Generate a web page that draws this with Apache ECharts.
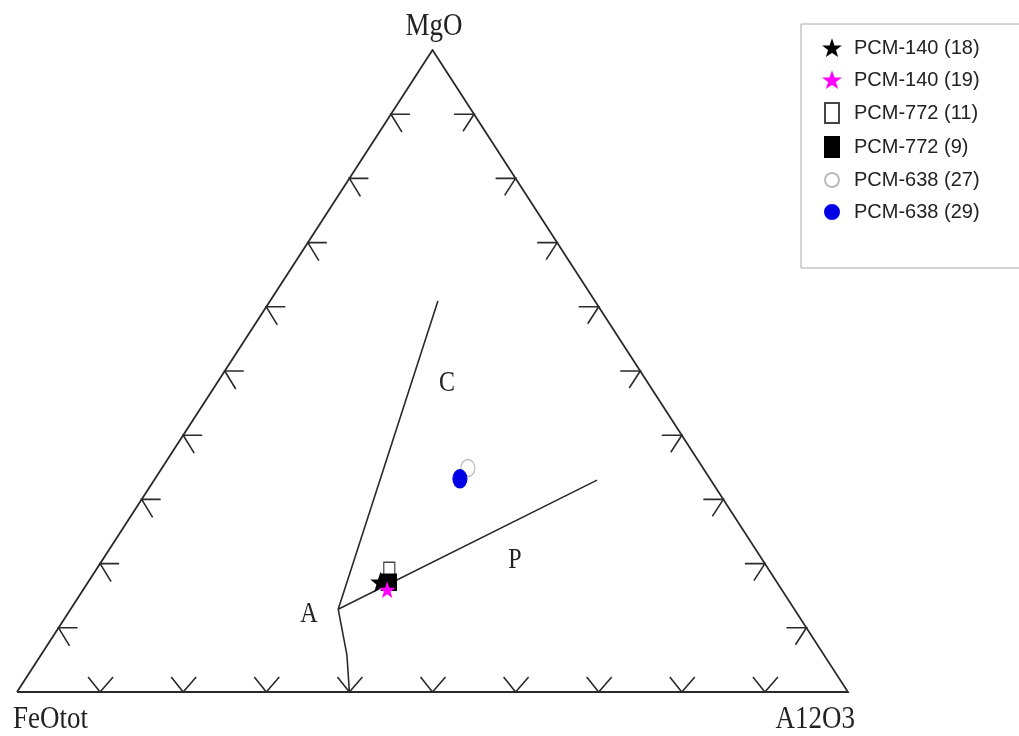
<!DOCTYPE html>
<html>
<head>
<meta charset="utf-8">
<title>MgO - FeOtot - Al2O3</title>
<script src="https://cdn.jsdelivr.net/npm/echarts@6/dist/echarts.min.js"></script>
<style>
  html, body { margin: 0; padding: 0; background: #fff; }
  #ternary { width: 1019px; height: 736px; }
</style>
</head>
<body>
<div id="ternary"></div>
<script>
// sample compositions (wt%)
var samples = ['PCM-140 (18)', 'PCM-140 (19)', 'PCM-772 (11)', 'PCM-772 (9)', 'PCM-638 (27)', 'PCM-638 (29)'];
var sampleMgO   = [17.1, 15.9, 19.2, 17.1, 34.9, 33.2];
var sampleFeO   = [47.7, 47.5, 45.6, 46.7, 28.3, 30.1];
var sampleAl2O3 = [35.2, 36.6, 35.2, 36.2, 36.8, 36.7];

// field boundaries, [MgO, FeOtot, Al2O3]
var pointA   = [12.9, 54.9, 32.2];
var lineToC  = [60.9, 18.9, 20.2];
var lineToP  = [33.0, 13.7, 53.3];
var lineToBase = [[5.8, 57.4, 36.8], [0, 60, 40]];

var tickSteps = [10, 20, 30, 40, 50, 60, 70, 80, 90];

// ternary -> cartesian (x 0..1, y 0..1)
function tern(mg, fe, al) {
  var s = mg + fe + al;
  return [al / s + mg / s / 2, mg / s];
}
function t(p) { return tern(p[0], p[1], p[2]); }

// pixel offsets -> data offsets (plot is 831 x 642 px)
var PW = 831, PH = 642;
function off(p, dx, dy) { return [p[0] + dx / PW, p[1] - dy / PH]; }

var ticks = [];
tickSteps.forEach(function(v) {
  var l = tern(v, 100 - v, 0);       // left edge
  ticks.push({coords: [off(l, 19, 0), l, off(l, 11, 18)]});
  var r = tern(v, 0, 100 - v);       // right edge
  ticks.push({coords: [off(r, -20, 0), r, off(r, -11, 17)]});
  var b = tern(0, 100 - v, v);       // base
  ticks.push({coords: [off(b, -12, -15), b, off(b, 13, -15)]});
});

var boundaries = [
  {coords: [t(pointA), t(lineToC)]},
  {coords: [t(pointA), t(lineToP)]},
  {coords: [t(pointA), t(lineToBase[0]), t(lineToBase[1])]}
];

var starPath = 'path://M10 0 L12.35 6.76 L19.51 6.91 L13.8 11.24 L15.88 18.09 L10 14 L4.12 18.09 L6.2 11.24 L0.49 6.91 L7.65 6.76 Z';
var ovalPath = 'path://M0 10 A10 10 0 1 1 20 10 A10 10 0 1 1 0 10 Z';

var sampleStyle = [
  {symbol: starPath, size: 17, color: '#000', border: '#000', z: 3},
  {symbol: starPath, size: 13, color: '#ff00ff', border: '#ff00ff', z: 6},
  {symbol: 'rect', size: [11, 13], color: '#fff', border: '#444', z: 3},
  {symbol: 'rect', size: [15, 16], color: '#000', border: '#000', z: 5},
  {symbol: ovalPath, size: [14, 17], color: '#fff', border: '#bbb', z: 3},
  {symbol: ovalPath, size: [14, 18], color: '#0000e6', border: '#0000e6', z: 4}
];

var chart = echarts.init(document.getElementById('ternary'));

var series = [
  {
    type: 'lines', coordinateSystem: 'cartesian2d', polyline: true, silent: true, z: 2,
    lineStyle: {color: '#2a2a2a', width: 1.8, opacity: 1},
    data: [{coords: [tern(0, 100, 0), tern(0, 0, 100), tern(100, 0, 0), tern(0, 100, 0)]}]
  },
  {
    type: 'lines', coordinateSystem: 'cartesian2d', polyline: true, silent: true, z: 2,
    lineStyle: {color: '#2a2a2a', width: 1.6, opacity: 1},
    data: ticks
  },
  {
    type: 'lines', coordinateSystem: 'cartesian2d', polyline: true, silent: true, z: 2,
    lineStyle: {color: '#2a2a2a', width: 1.6, opacity: 1},
    data: boundaries
  }
];

samples.forEach(function(name, i) {
  var st = sampleStyle[i];
  series.push({
    name: name,
    type: 'scatter',
    z: st.z,
    symbol: st.symbol,
    symbolSize: st.size,
    itemStyle: {color: st.color, borderColor: st.border, borderWidth: 1.3, opacity: 1},
    data: [tern(sampleMgO[i], sampleFeO[i], sampleAl2O3[i])]
  });
});

var serif = '"Liberation Serif", "DejaVu Serif", serif';
function label(text, x, y, align, size, sy) {
  return {
    type: 'text', x: x, y: y, scaleY: sy, z: 10,
    style: {text: text, fill: '#222', font: size + 'px ' + serif, align: align, verticalAlign: 'middle'}
  };
}

chart.setOption({
  animation: false,
  backgroundColor: '#fff',
  grid: {left: 17, right: 171, top: 50, bottom: 44},
  xAxis: {type: 'value', min: 0, max: 1, show: false},
  yAxis: {type: 'value', min: 0, max: 1, show: false},
  legend: {
    data: samples,
    orient: 'vertical',
    left: 801, top: 24,
    padding: [14, 60, 46, 23],
    itemWidth: 14, itemHeight: 20, itemGap: 12,
    borderColor: '#aaa', borderWidth: 1,
    textStyle: {fontFamily: '"Liberation Sans", Arial, sans-serif', fontSize: 20, color: '#222', padding: [0, 0, 0, 10]},
    selectedMode: false
  },
  graphic: [
    label('MgO', 434, 26, 'center', 27, 1.2),
    label('FeOtot', 13, 719, 'left', 27, 1.2),
    label('A12O3', 855, 719, 'right', 27, 1.2),
    label('A', 309, 614, 'center', 24, 1.2),
    label('C', 447, 383, 'center', 24, 1.2),
    label('P', 515, 560, 'center', 24, 1.2)
  ],
  series: series
});
</script>
</body>
</html>
